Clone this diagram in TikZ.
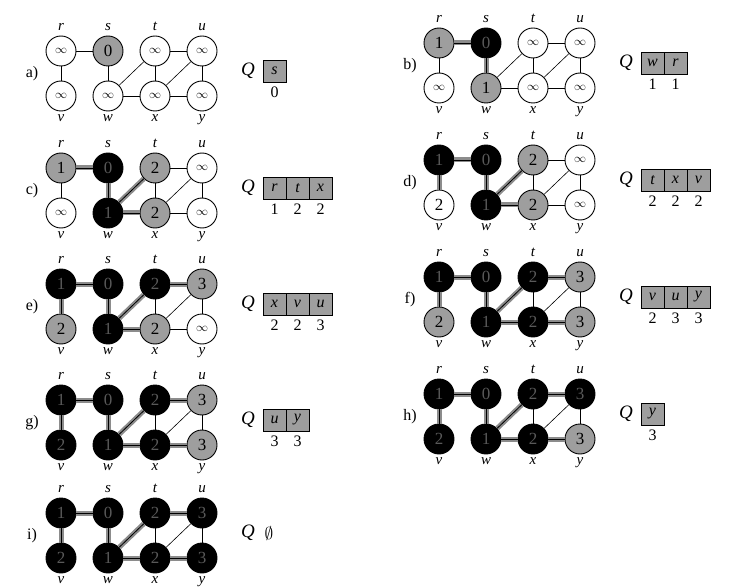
\documentclass[tikz,border=0pt]{standalone}
\usepackage{fontspec}
\setmainfont{Liberation Serif}
\usepackage{amssymb}
\usetikzlibrary{positioning,backgrounds}
\colorlet{bfsgray}{black!38}
\newcommand{\infsym}{{\fontsize{12}{12}\selectfont$\infty$}}
\tikzset{
  vtx/.style    ={circle,draw=black,line width=0.9pt,minimum size=30pt,inner sep=0pt,
                  font=\fontsize{17}{17}\selectfont},
  vwhite/.style ={vtx,fill=white},
  vgray/.style  ={vtx,fill=bfsgray},
  vblack/.style ={vtx,fill=black,text=black!65},
  vname/.style  ={font=\fontsize{15}{15}\selectfont\itshape,inner sep=0pt},
  edge/.style   ={line width=0.6pt},
  tree/.style   ={line width=0.8pt,preaction={draw=black!45,line width=5pt}},
  qcell/.style  ={rectangle,draw=black,line width=0.8pt,fill=bfsgray,minimum width=23pt,
                  minimum height=22pt,inner sep=0pt,font=\fontsize{16}{16}\selectfont\itshape},
  qnum/.style   ={font=\fontsize{16}{16}\selectfont,inner sep=0pt},
  tag/.style    ={font=\fontsize{16}{16}\selectfont},
  qname/.style  ={font=\fontsize{19}{19}\selectfont\itshape},
}
% one stage of the search: prefix, origin, tag, vertex states
\newcommand{\bfspanel}[4]{%
  \begin{scope}[shift={#2}]
    \foreach \n/\px/\py in {r/0/0,s/47/0,t/94/0,u/141/0,v/0/45,w/47/45,x/94/45,y/141/45}
      \coordinate (#1-p\n) at (\px,\py);
    \foreach \n/\st/\d in {#4}
      \node[\st] (#1-\n) at (#1-p\n) {\d};
    \foreach \n in {r,s,t,u}
      \node[vname,above=5pt of #1-\n] {\n};
    \foreach \n in {v,w,x,y}
      \node[vname,below=2.5pt of #1-\n] {\n};
    \node[tag] (#1-tag) at (-29,22.5) {#3};
    \begin{scope}[on background layer]
      \foreach \p/\q in {r/s,r/v,s/w,w/t,w/x,t/x,t/u,x/u,x/y,u/y}
        \draw[edge] (#1-\p) -- (#1-\q);
    \end{scope}
  \end{scope}
}
% the queue beside a stage: prefix, origin, cells
\newcommand{\bfsqueue}[3]{%
  \begin{scope}[shift={#2}]
    \node[qname] (#1-Q) at (187,20) {Q};
    \foreach \c/\k [count=\i] in {#3} {
      \node[qcell] (#1-q\i) at (202+23*\i-11.5,20) {\c};
      \node[qnum,below=4pt of #1-q\i] {\k};
    }
  \end{scope}
}

\begin{document}
\begin{tikzpicture}[x=1pt,y=-1pt]
  \useasboundingbox (0,0) rectangle (752,588);

  % ---- a) -------------------------------------------------------------
  \bfspanel{a}{(61,51)}{a)}{r/vwhite/\infsym,s/vgray/0,t/vwhite/\infsym,u/vwhite/\infsym,
    v/vwhite/\infsym,w/vwhite/\infsym,x/vwhite/\infsym,y/vwhite/\infsym}
  \bfsqueue{a}{(61,51)}{s/0}

  % ---- b) -------------------------------------------------------------
  \bfspanel{b}{(439,43)}{b)}{r/vgray/1,s/vblack/0,t/vwhite/\infsym,u/vwhite/\infsym,
    v/vwhite/\infsym,w/vgray/1,x/vwhite/\infsym,y/vwhite/\infsym}
  \bfsqueue{b}{(439,43)}{w/1,r/1}
  \draw[tree] (b-s) -- (b-r);
  \draw[tree] (b-s) -- (b-w);

  % ---- c) -------------------------------------------------------------
  \bfspanel{c}{(61,168)}{c)}{r/vgray/1,s/vblack/0,t/vgray/2,u/vwhite/\infsym,
    v/vwhite/\infsym,w/vblack/1,x/vgray/2,y/vwhite/\infsym}
  \bfsqueue{c}{(61,168)}{r/1,t/2,x/2}
  \draw[tree] (c-s) -- (c-r);
  \draw[tree] (c-s) -- (c-w);
  \draw[tree] (c-w) -- (c-t);
  \draw[tree] (c-w) -- (c-x);

  % ---- d) -------------------------------------------------------------
  \bfspanel{d}{(439,160)}{d)}{r/vblack/1,s/vblack/0,t/vgray/2,u/vwhite/\infsym,
    v/vwhite/2,w/vblack/1,x/vgray/2,y/vwhite/\infsym}
  \bfsqueue{d}{(439,160)}{t/2,x/2,v/2}
  \draw[tree] (d-s) -- (d-r);
  \draw[tree] (d-s) -- (d-w);
  \draw[tree] (d-w) -- (d-t);
  \draw[tree] (d-w) -- (d-x);
  \draw[tree] (d-r) -- (d-v);

  % ---- e) -------------------------------------------------------------
  \bfspanel{e}{(61,284)}{e)}{r/vblack/1,s/vblack/0,t/vblack/2,u/vgray/3,
    v/vgray/2,w/vblack/1,x/vgray/2,y/vwhite/\infsym}
  \bfsqueue{e}{(61,284)}{x/2,v/2,u/3}
  \draw[tree] (e-s) -- (e-r);
  \draw[tree] (e-s) -- (e-w);
  \draw[tree] (e-w) -- (e-t);
  \draw[tree] (e-w) -- (e-x);
  \draw[tree] (e-r) -- (e-v);
  \draw[tree] (e-t) -- (e-u);

  % ---- f) -------------------------------------------------------------
  \bfspanel{f}{(439,277)}{f)}{r/vblack/1,s/vblack/0,t/vblack/2,u/vgray/3,
    v/vgray/2,w/vblack/1,x/vblack/2,y/vgray/3}
  \bfsqueue{f}{(439,277)}{v/2,u/3,y/3}
  \draw[tree] (f-s) -- (f-r);
  \draw[tree] (f-s) -- (f-w);
  \draw[tree] (f-w) -- (f-t);
  \draw[tree] (f-w) -- (f-x);
  \draw[tree] (f-r) -- (f-v);
  \draw[tree] (f-t) -- (f-u);
  \draw[tree] (f-x) -- (f-y);

  % ---- g) -------------------------------------------------------------
  \bfspanel{g}{(61,400)}{g)}{r/vblack/1,s/vblack/0,t/vblack/2,u/vgray/3,
    v/vblack/2,w/vblack/1,x/vblack/2,y/vgray/3}
  \bfsqueue{g}{(61,400)}{u/3,y/3}
  \draw[tree] (g-s) -- (g-r);
  \draw[tree] (g-s) -- (g-w);
  \draw[tree] (g-w) -- (g-t);
  \draw[tree] (g-w) -- (g-x);
  \draw[tree] (g-r) -- (g-v);
  \draw[tree] (g-t) -- (g-u);
  \draw[tree] (g-x) -- (g-y);

  % ---- h) -------------------------------------------------------------
  \bfspanel{h}{(439,394)}{h)}{r/vblack/1,s/vblack/0,t/vblack/2,u/vblack/3,
    v/vblack/2,w/vblack/1,x/vblack/2,y/vgray/3}
  \bfsqueue{h}{(439,394)}{y/3}
  \draw[tree] (h-s) -- (h-r);
  \draw[tree] (h-s) -- (h-w);
  \draw[tree] (h-w) -- (h-t);
  \draw[tree] (h-w) -- (h-x);
  \draw[tree] (h-r) -- (h-v);
  \draw[tree] (h-t) -- (h-u);
  \draw[tree] (h-x) -- (h-y);

  % ---- i) -------------------------------------------------------------
  \bfspanel{i}{(61,513)}{i)}{r/vblack/1,s/vblack/0,t/vblack/2,u/vblack/3,
    v/vblack/2,w/vblack/1,x/vblack/2,y/vblack/3}
  \node[qname] (i-Q) at (248,533) {Q};
  \node[qnum,right=6pt of i-Q,font=\fontsize{19}{19}\selectfont] (i-empty) {$\emptyset$};
  \draw[tree] (i-s) -- (i-r);
  \draw[tree] (i-s) -- (i-w);
  \draw[tree] (i-w) -- (i-t);
  \draw[tree] (i-w) -- (i-x);
  \draw[tree] (i-r) -- (i-v);
  \draw[tree] (i-t) -- (i-u);
  \draw[tree] (i-x) -- (i-y);
\end{tikzpicture}
\end{document}
